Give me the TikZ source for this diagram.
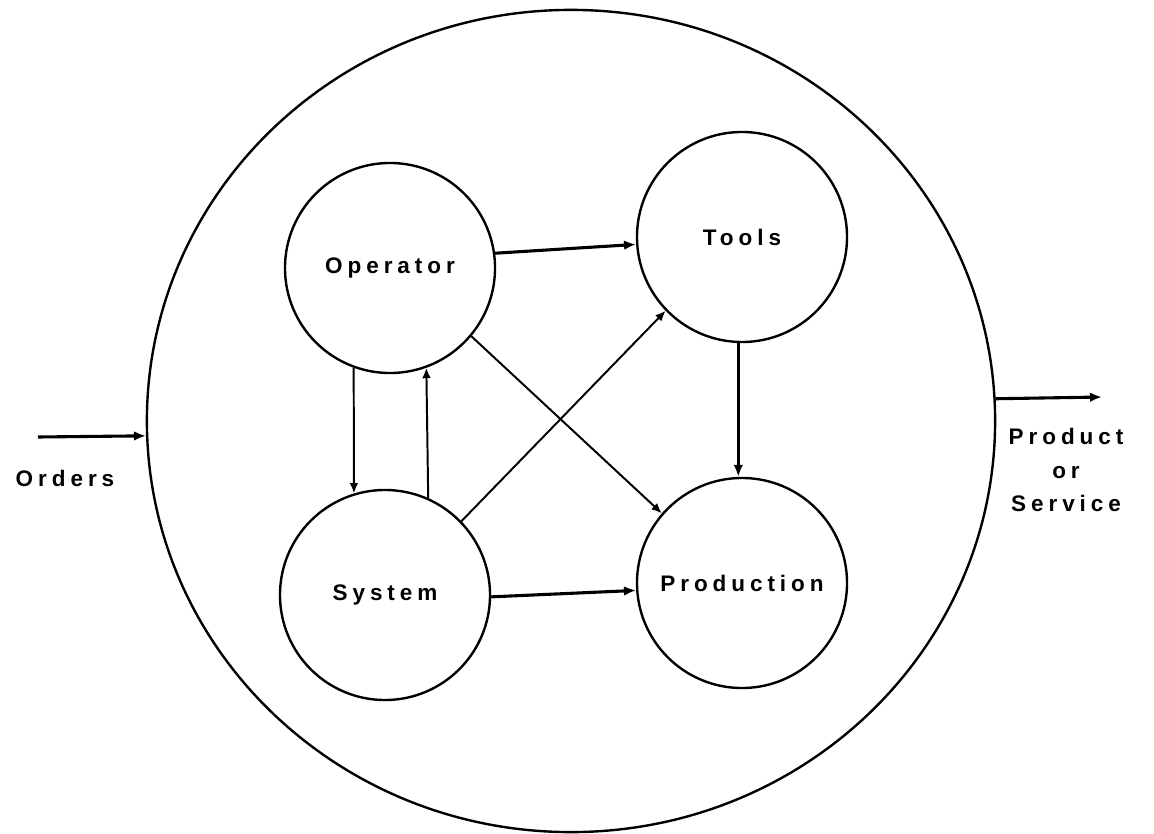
\documentclass[tikz,border=0pt]{standalone}
\usepackage{fontspec}
\newfontfamily\diagfont[LetterSpace=22]{Liberation Sans Bold}
\usetikzlibrary{arrows.meta, shapes.geometric}

\begin{document}
\begin{tikzpicture}[x=0.025cm, y=-0.025cm,
    part/.style={circle, draw, line width=1.7pt, minimum size=5.25cm, inner sep=0pt,
                 font=\diagfont\fontsize{16}{19}\selectfont},
    flow/.style={line width=2.2pt, -{Latex[length=3mm, width=2.4mm]}},
    thinflow/.style={line width=1.4pt, -{Latex[length=2.6mm, width=2.2mm]}},
    lbl/.style={font=\diagfont\fontsize{16}{19}\selectfont, align=center, inner sep=0pt}]
    \useasboundingbox (0,0) rectangle (1154,833);

    % the whole system
    \node[ellipse, draw, line width=1.7pt, minimum width=21.2cm, minimum height=20.55cm,
          inner sep=0pt] (bound) at (571,421) {};

    % the four parts
    \node[part] (operator) at (390,268) {Operator};
    \node[part] (tools) at (742,237) {Tools};
    \node[part] (system) at (385,595) {System};
    \node[part] (production) at (742,583) {Production};

    % links between the parts
    \draw[flow] (operator.8) -- (tools.184);
    \draw[flow] (tools.268) -- (production.92);
    \draw[flow] (system.359) -- (production.184);
    \draw[thinflow] (operator.-40) -- (production.139);
    \draw[thinflow] (system.44) -- (tools.224);
    \draw[thinflow] (operator.250) -- (system.107);
    \draw[thinflow] (system.66) -- (operator.290);

    % input and output
    \coordinate (ordersin) at (38,437);
    \draw[flow] (ordersin) -- (bound.182.2);
    \node[lbl] (orders) at (65,478) {Orders};
    \coordinate (productout) at (1102,397);
    \draw[flow] (bound.3.3) -- (productout);
    \node[lbl] (product) at (1066,470) {Product\\[5pt] or\\[5pt] Service};
\end{tikzpicture}
\end{document}
